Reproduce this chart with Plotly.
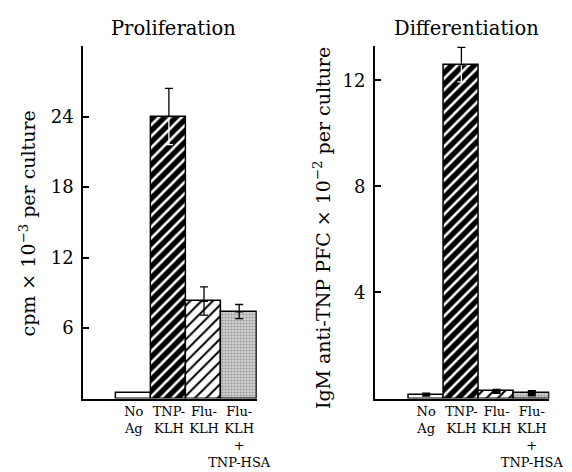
import plotly.graph_objects as go

# ---- data ----
categories = ["No<br>Ag", "TNP-<br>KLH", "Flu-<br>KLH", "Flu-<br>KLH<br>+<br>TNP-HSA"]
prolif_values = [0.5, 24.0, 8.3, 7.4]
prolif_err = [0.0, 2.4, 1.2, 0.6]
diff_values = [0.15, 12.6, 0.27, 0.2]
diff_err = [0.08, 0.65, 0.1, 0.12]
prolif_ticks = [6, 12, 18, 24]
diff_ticks = [4, 8, 12]

FONT = "DejaVu Serif"
xpos = list(range(len(categories)))

# bar fill styles per category
pat_shape = ["", "/", "/", "."]
pat_bg = ["white", "black", "white", "#d2d2d2"]
pat_fg = ["white", "white", "black", "#8f8f8f"]
pat_sol = [0.0, 0.32, 0.25, 0.3]
pat_size = [8, 8, 8, 3]

fig = go.Figure()


def add_panel(values, errs, xa, ya, small_blob):
    for i in range(len(values)):
        fig.add_trace(go.Bar(
            x=[xpos[i]], y=[values[i]], width=1.0,
            marker=dict(color=pat_bg[i], line=dict(color="black", width=1.5),
                        pattern=dict(shape=pat_shape[i], bgcolor=pat_bg[i], fgcolor=pat_fg[i],
                                     solidity=pat_sol[i], size=pat_size[i], fillmode="replace")),
            xaxis=xa, yaxis=ya, showlegend=False))
    for i in range(len(values)):
        if errs[i] <= 0:
            continue
        big = values[i] > 0.3 * max(values)
        if small_blob and not big:
            # tiny error -> drawn as a small solid block
            fig.add_trace(go.Scatter(
                x=[xpos[i]], y=[values[i]], mode="markers", marker=dict(size=1, color="rgba(0,0,0,0)"),
                error_y=dict(type="data", array=[errs[i]], color="black", thickness=8, width=0),
                xaxis=xa, yaxis=ya, showlegend=False, hoverinfo="skip"))
            continue
        lower_col = "white" if pat_bg[i] == "black" else "black"
        fig.add_trace(go.Scatter(
            x=[xpos[i]], y=[values[i]], mode="markers", marker=dict(size=1, color="rgba(0,0,0,0)"),
            error_y=dict(type="data", array=[0], arrayminus=[errs[i]], symmetric=False,
                         color=lower_col, thickness=1.3, width=4),
            xaxis=xa, yaxis=ya, showlegend=False, hoverinfo="skip"))
        fig.add_trace(go.Scatter(
            x=[xpos[i]], y=[values[i]], mode="markers", marker=dict(size=1, color="rgba(0,0,0,0)"),
            error_y=dict(type="data", array=[errs[i]], arrayminus=[0], symmetric=False,
                         color="black", thickness=1.3, width=4),
            xaxis=xa, yaxis=ya, showlegend=False, hoverinfo="skip"))


add_panel(prolif_values, prolif_err, "x", "y", False)
add_panel(diff_values, diff_err, "x2", "y2", True)

ybot = 1 - 390.5 / 472
ytop = 1 - 38 / 472

yaxis_common = dict(showgrid=False, zeroline=False, showline=True, linecolor="black", linewidth=1.5,
                    ticks="inside", ticklen=6, tickwidth=1.5, tickcolor="black",
                    ticklabelstandoff=4,
                    tickfont=dict(family=FONT, size=18, color="black"))
xaxis_common = dict(showgrid=False, zeroline=False, showline=True, linecolor="black", linewidth=1.5,
                    tickvals=xpos, ticktext=categories, ticks="", tickangle=0,
                    tickfont=dict(family=FONT, size=13, color="black"))

fig.update_layout(
    width=572, height=472,
    margin=dict(l=0, r=0, t=0, b=0),
    paper_bgcolor="white", plot_bgcolor="white",
    barmode="overlay", bargap=0,
    xaxis=dict(domain=[77 / 572, 255 / 572], range=[-1.44, 3.5], anchor="y", **xaxis_common),
    yaxis=dict(domain=[ybot, ytop], range=[0, 30.0], tickvals=prolif_ticks, anchor="x", **yaxis_common),
    xaxis2=dict(domain=[376 / 572, 555 / 572], range=[-1.46, 3.5], anchor="y2", **xaxis_common),
    yaxis2=dict(domain=[ybot, ytop], range=[0, 13.3], tickvals=diff_ticks, anchor="x2", **yaxis_common),
)

# panel titles
fig.add_annotation(text="Proliferation", x=170 / 572, y=1 - 20 / 472, xref="paper", yref="paper",
                   xanchor="center", yanchor="middle", showarrow=False,
                   font=dict(family=FONT, size=19.5, color="black"))
fig.add_annotation(text="Differentiation", x=470 / 572, y=1 - 20 / 472, xref="paper", yref="paper",
                   xanchor="center", yanchor="middle", showarrow=False,
                   font=dict(family=FONT, size=19.5, color="black"))

# y axis titles
fig.add_annotation(text="cpm × 10<sup>−3</sup> per culture", x=20 / 572, y=1 - 216 / 472,
                   xref="paper", yref="paper", xanchor="center", yanchor="middle",
                   showarrow=False, textangle=-90,
                   font=dict(family=FONT, size=19, color="black"))
fig.add_annotation(text="IgM anti-TNP PFC × 10<sup>−2</sup> per culture", x=322 / 572, y=1 - 220 / 472,
                   xref="paper", yref="paper", xanchor="center", yanchor="middle",
                   showarrow=False, textangle=-90,
                   font=dict(family=FONT, size=19, color="black"))

fig.write_html("out.html")
